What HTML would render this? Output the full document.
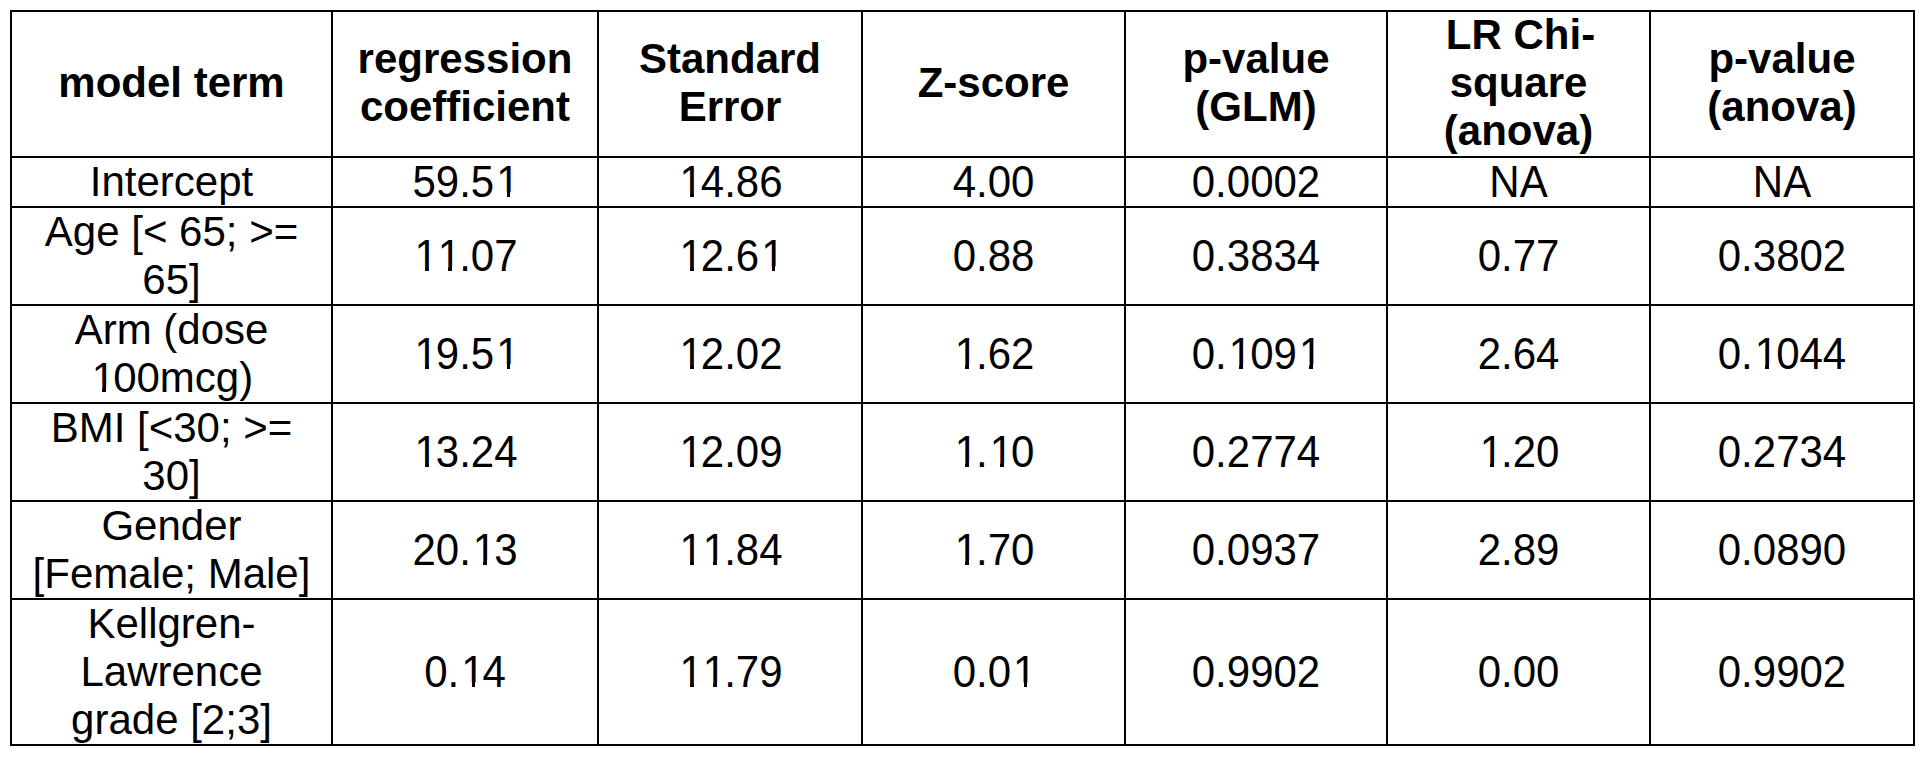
<!DOCTYPE html>
<html><head><meta charset="utf-8"><title>Regression table</title>
<style>
html,body{margin:0;padding:0;background:#fff;}
body{width:1926px;height:757px;position:relative;overflow:hidden;font-family:"Liberation Sans",Arial,sans-serif;color:#000;}
.v{position:absolute;width:2px;background:#000;}
.h{position:absolute;height:2px;background:#000;}
.c{position:absolute;display:flex;flex-direction:column;align-items:center;justify-content:center;text-align:center;font-size:42px;line-height:48px;}
.c span{display:block;white-space:nowrap;position:relative;}
.b{font-weight:bold;}
.b span{top:-1px;}
.n span{transform:scaleY(1.035);transform-origin:50% 23px;}
i{font-style:normal;position:relative;left:2px;}
i::before,i::after{content:"";position:absolute;background:#fff;bottom:calc(0.212em - 1px);height:calc(0.0747em + 2px);}
i::before{left:calc(0.0762em - 1px);width:calc(0.1753em + 1px);}
i::after{left:0.3398em;width:calc(0.1675em + 1px);}
</style></head><body>

<div class="v" style="left:10px;top:10px;height:736px"></div>
<div class="v" style="left:331px;top:10px;height:736px"></div>
<div class="v" style="left:597px;top:10px;height:736px"></div>
<div class="v" style="left:861px;top:10px;height:736px"></div>
<div class="v" style="left:1124px;top:10px;height:736px"></div>
<div class="v" style="left:1386px;top:10px;height:736px"></div>
<div class="v" style="left:1649px;top:10px;height:736px"></div>
<div class="v" style="left:1913px;top:10px;height:736px"></div>
<div class="h" style="left:10px;top:10px;width:1905px"></div>
<div class="h" style="left:10px;top:156px;width:1905px"></div>
<div class="h" style="left:10px;top:206px;width:1905px"></div>
<div class="h" style="left:10px;top:304px;width:1905px"></div>
<div class="h" style="left:10px;top:402px;width:1905px"></div>
<div class="h" style="left:10px;top:500px;width:1905px"></div>
<div class="h" style="left:10px;top:598px;width:1905px"></div>
<div class="h" style="left:10px;top:744px;width:1905px"></div>
<div class="c b" style="left:12px;top:12px;width:319px;height:144px"><span>model term</span></div>
<div class="c b" style="left:333px;top:12px;width:264px;height:144px"><span>regression</span><span>coefficient</span></div>
<div class="c b" style="left:599px;top:12px;width:262px;height:144px"><span>Standard</span><span>Error</span></div>
<div class="c b" style="left:863px;top:12px;width:261px;height:144px"><span>Z-score</span></div>
<div class="c b" style="left:1126px;top:12px;width:260px;height:144px"><span>p-value</span><span>(GLM)</span></div>
<div class="c b" style="left:1388px;top:12px;width:261px;height:144px"><span style="left:2px">LR Chi-</span><span>square</span><span>(anova)</span></div>
<div class="c b" style="left:1651px;top:12px;width:262px;height:144px"><span>p-value</span><span>(anova)</span></div>
<div class="c" style="left:12px;top:158px;width:319px;height:48px"><span>Intercept</span></div>
<div class="c n" style="left:333px;top:158px;width:264px;height:48px"><span>59.5<i>1</i></span></div>
<div class="c n" style="left:599px;top:158px;width:262px;height:48px"><span><i>1</i>4.86</span></div>
<div class="c n" style="left:863px;top:158px;width:261px;height:48px"><span>4.00</span></div>
<div class="c n" style="left:1126px;top:158px;width:260px;height:48px"><span>0.0002</span></div>
<div class="c n" style="left:1388px;top:158px;width:261px;height:48px"><span>NA</span></div>
<div class="c n" style="left:1651px;top:158px;width:262px;height:48px"><span>NA</span></div>
<div class="c" style="left:12px;top:208px;width:319px;height:96px"><span>Age [&lt; 65; &gt;=</span><span>65]</span></div>
<div class="c n" style="left:333px;top:208px;width:264px;height:96px"><span><i>1</i><i>1</i>.07</span></div>
<div class="c n" style="left:599px;top:208px;width:262px;height:96px"><span><i>1</i>2.6<i>1</i></span></div>
<div class="c n" style="left:863px;top:208px;width:261px;height:96px"><span>0.88</span></div>
<div class="c n" style="left:1126px;top:208px;width:260px;height:96px"><span>0.3834</span></div>
<div class="c n" style="left:1388px;top:208px;width:261px;height:96px"><span>0.77</span></div>
<div class="c n" style="left:1651px;top:208px;width:262px;height:96px"><span>0.3802</span></div>
<div class="c" style="left:12px;top:306px;width:319px;height:96px"><span>Arm (dose</span><span><i>1</i>00mcg)</span></div>
<div class="c n" style="left:333px;top:306px;width:264px;height:96px"><span><i>1</i>9.5<i>1</i></span></div>
<div class="c n" style="left:599px;top:306px;width:262px;height:96px"><span><i>1</i>2.02</span></div>
<div class="c n" style="left:863px;top:306px;width:261px;height:96px"><span><i>1</i>.62</span></div>
<div class="c n" style="left:1126px;top:306px;width:260px;height:96px"><span>0.<i>1</i>09<i>1</i></span></div>
<div class="c n" style="left:1388px;top:306px;width:261px;height:96px"><span>2.64</span></div>
<div class="c n" style="left:1651px;top:306px;width:262px;height:96px"><span>0.<i>1</i>044</span></div>
<div class="c" style="left:12px;top:404px;width:319px;height:96px"><span>BMI [&lt;30; &gt;=</span><span>30]</span></div>
<div class="c n" style="left:333px;top:404px;width:264px;height:96px"><span><i>1</i>3.24</span></div>
<div class="c n" style="left:599px;top:404px;width:262px;height:96px"><span><i>1</i>2.09</span></div>
<div class="c n" style="left:863px;top:404px;width:261px;height:96px"><span><i>1</i>.<i>1</i>0</span></div>
<div class="c n" style="left:1126px;top:404px;width:260px;height:96px"><span>0.2774</span></div>
<div class="c n" style="left:1388px;top:404px;width:261px;height:96px"><span><i>1</i>.20</span></div>
<div class="c n" style="left:1651px;top:404px;width:262px;height:96px"><span>0.2734</span></div>
<div class="c" style="left:12px;top:502px;width:319px;height:96px"><span>Gender</span><span>[Female; Male]</span></div>
<div class="c n" style="left:333px;top:502px;width:264px;height:96px"><span>20.<i>1</i>3</span></div>
<div class="c n" style="left:599px;top:502px;width:262px;height:96px"><span><i>1</i><i>1</i>.84</span></div>
<div class="c n" style="left:863px;top:502px;width:261px;height:96px"><span><i>1</i>.70</span></div>
<div class="c n" style="left:1126px;top:502px;width:260px;height:96px"><span>0.0937</span></div>
<div class="c n" style="left:1388px;top:502px;width:261px;height:96px"><span>2.89</span></div>
<div class="c n" style="left:1651px;top:502px;width:262px;height:96px"><span>0.0890</span></div>
<div class="c" style="left:12px;top:600px;width:319px;height:144px"><span>Kellgren-</span><span>Lawrence</span><span>grade [2;3]</span></div>
<div class="c n" style="left:333px;top:600px;width:264px;height:144px"><span>0.<i>1</i>4</span></div>
<div class="c n" style="left:599px;top:600px;width:262px;height:144px"><span><i>1</i><i>1</i>.79</span></div>
<div class="c n" style="left:863px;top:600px;width:261px;height:144px"><span>0.0<i>1</i></span></div>
<div class="c n" style="left:1126px;top:600px;width:260px;height:144px"><span>0.9902</span></div>
<div class="c n" style="left:1388px;top:600px;width:261px;height:144px"><span>0.00</span></div>
<div class="c n" style="left:1651px;top:600px;width:262px;height:144px"><span>0.9902</span></div>
</body></html>
